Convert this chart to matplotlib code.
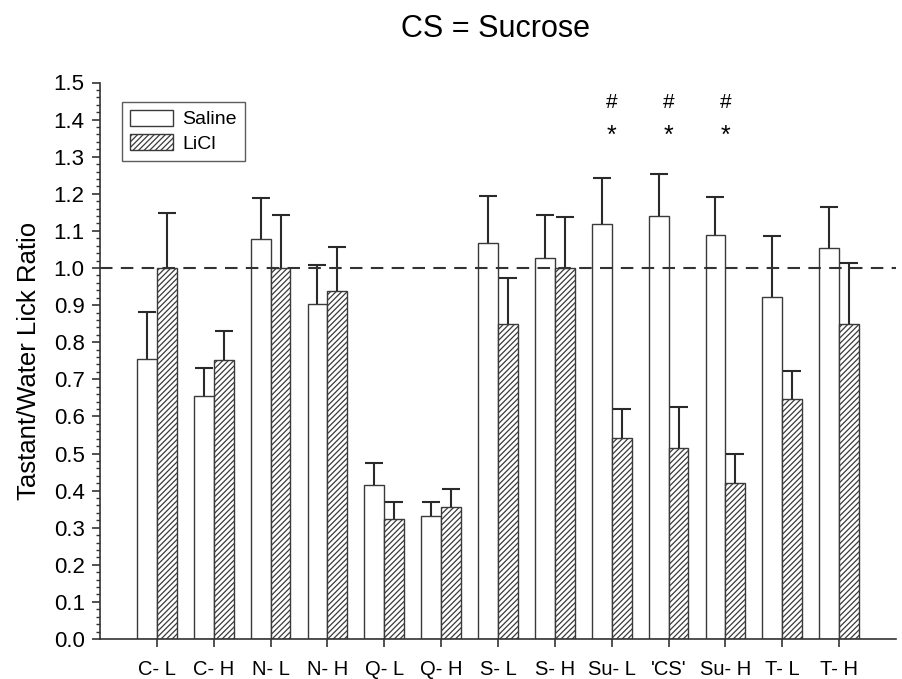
import matplotlib.pyplot as plt
import numpy as np

plt.rcParams['font.family'] = ['Liberation Sans', 'DejaVu Sans']

labels = ['C- L', 'C- H', 'N- L', 'N- H', 'Q- L', 'Q- H', 'S- L', 'S- H',
          'Su- L', "'CS'", 'Su- H', 'T- L', 'T- H']
saline = [0.756, 0.655, 1.077, 0.902, 0.414, 0.331, 1.067, 1.027,
          1.119, 1.140, 1.089, 0.923, 1.055]
saline_err = [0.126, 0.076, 0.112, 0.106, 0.060, 0.038, 0.128, 0.116,
              0.123, 0.113, 0.102, 0.162, 0.109]
licl = [1.000, 0.752, 1.000, 0.938, 0.323, 0.355, 0.848, 1.000,
        0.543, 0.515, 0.421, 0.646, 0.850]
licl_err = [0.147, 0.078, 0.143, 0.119, 0.046, 0.050, 0.124, 0.138,
            0.078, 0.111, 0.078, 0.076, 0.164]
# groups marked with # and *
sig_groups = [8, 9, 10]

x = np.arange(1, len(labels) + 1)
w = 0.35
edge = '#3a3a3a'

plt.rcParams['hatch.color'] = '#2a2a2a'
plt.rcParams['hatch.linewidth'] = 0.9

fig = plt.figure(figsize=(9.02, 6.79), dpi=100)
ax = fig.add_axes([100 / 902, 1 - 639 / 679, 796 / 902, 556.5 / 679])

ax.bar(x - w / 2, saline, w, color='white', edgecolor=edge, linewidth=1.0,
       label='Saline', zorder=2)
ax.bar(x + w / 2, licl, w, color='white', edgecolor=edge, linewidth=1.0,
       hatch='//////', label='LiCl', zorder=2)

for xs, ys, es in [(x - w / 2, saline, saline_err), (x + w / 2, licl, licl_err)]:
    eb = ax.errorbar(xs, ys, yerr=[np.zeros(len(es)), es], fmt='none',
                     ecolor='#2a2a2a', elinewidth=1.5, capsize=6.5,
                     capthick=1.5, zorder=3)
    eb.lines[1][0].set_visible(False)  # no lower caps

ax.axhline(1.0, color='#333333', linewidth=1.5, linestyle=(0, (6, 4)), zorder=4)

for g in sig_groups:
    ax.text(x[g], 1.447, '#', ha='center', va='center', fontsize=15)
    ax.text(x[g], 1.355, '*', ha='center', va='center', fontsize=18)

ax.set_xlim(0, 14)
ax.set_ylim(0, 1.5)
ax.set_xticks(x)
ax.set_xticklabels(labels, fontsize=14.5)
ax.set_yticks(np.arange(0, 1.51, 0.1))
ax.set_yticklabels(['%.1f' % v for v in np.arange(0, 1.51, 0.1)], fontsize=16)
ax.set_yticks(np.arange(0, 1.501, 0.02), minor=True)
ax.tick_params(axis='both', which='major', direction='out', length=6,
               width=1.2, color='#333333', pad=5)
ax.tick_params(axis='y', which='minor', direction='out', length=3,
               width=1.0, color='#333333')
ax.tick_params(axis='x', pad=9)

for s in ['top', 'right']:
    ax.spines[s].set_visible(False)
for s in ['left', 'bottom']:
    ax.spines[s].set_linewidth(1.2)
    ax.spines[s].set_color('#333333')

ax.set_ylabel('Tastant/Water Lick Ratio', fontsize=18.5, labelpad=9)
fig.suptitle('CS = Sucrose', fontsize=22, x=0.549, y=0.958, va='center')

leg = ax.legend(loc='upper left', bbox_to_anchor=(0.0276, 0.965),
                fontsize=14, frameon=True, fancybox=False, edgecolor='#333333',
                handlelength=2.2, handleheight=0.88, handletextpad=0.5,
                borderpad=0.4, borderaxespad=0, labelspacing=0.3)
leg.get_frame().set_linewidth(1.0)

fig.savefig('out.png', dpi=100)
